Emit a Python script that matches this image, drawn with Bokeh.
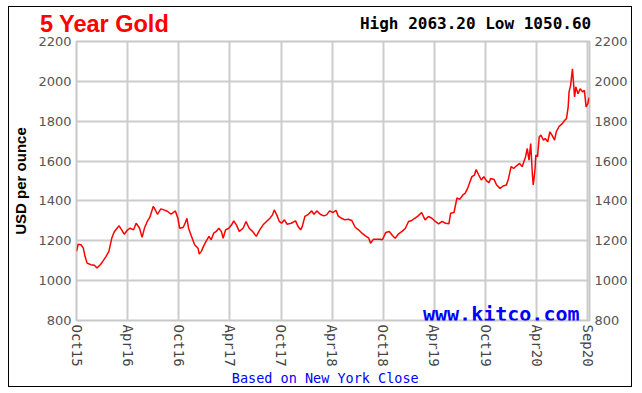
from bokeh.plotting import figure
from bokeh.models import FixedTicker, LinearAxis, Range1d, Label
from bokeh.embed import file_html
from bokeh.resources import INLINE

# months since start (Oct 2015 = 0) and gold price (USD/oz)
months = [
    0.0, 0.2, 0.53, 0.8, 1.0, 1.24, 1.7, 2.1, 2.4, 2.8, 3.08, 3.47, 3.8, 4.14, 4.4, 4.76,
    5.0, 5.3, 5.6, 6.0, 6.3, 6.7, 7.0, 7.4, 7.7, 8.0, 8.3, 8.6, 9.0, 9.15, 9.5, 9.9,
    10.26, 10.7, 11.1, 11.6, 11.9, 12.1, 12.5, 12.7, 12.96, 13.15, 13.5, 13.86, 14.26,
    14.4, 14.65, 14.9, 15.2, 15.55, 15.8, 16.1, 16.4, 16.7, 17.0, 17.2, 17.5, 17.86,
    18.2, 18.45, 18.76, 19.1, 19.55, 19.9, 20.26, 20.6, 21.1, 21.5, 21.9, 22.3, 22.7,
    23.0, 23.2, 23.5, 23.8, 24.06, 24.4, 24.7, 25.2, 25.7, 26.0, 26.3, 26.5, 26.8,
    27.2, 27.6, 27.86, 28.2, 28.6, 29.0,
    29.35, 29.7, 30.1, 30.45, 30.7, 31.1, 31.5, 31.9, 32.3, 32.7, 33.1, 33.5, 33.9,
    34.3, 34.5, 34.85, 35.2, 35.6, 35.9, 36.3, 36.7, 37.1, 37.4, 37.8, 38.2, 38.6,
    38.96, 39.35, 39.7, 40.1, 40.5, 40.9, 41.3, 41.7, 42.1, 42.5, 42.9, 43.3, 43.7,
    43.9, 44.3,
    44.65, 44.96, 45.35, 45.6, 45.9, 46.1, 46.4, 46.7, 46.9, 47.2, 47.5, 47.8, 48.1,
    48.4, 48.6, 49.0, 49.3, 49.7, 50.06, 50.45, 50.7, 51.0, 51.3, 51.6, 52.0, 52.3,
    52.7, 52.9, 53.1, 53.3, 53.5, 53.6, 53.8, 53.9, 54.1, 54.3, 54.5, 54.8, 55.0,
    55.3, 55.55, 55.8, 56.1, 56.3, 56.6, 57.0, 57.3, 57.5, 57.7, 57.8, 57.98, 58.2,
    58.3, 58.45, 58.6, 58.85, 59.1, 59.4, 59.6, 59.8, 60.0, 60.15,
]
prices = [
    1147, 1183, 1180, 1163, 1122, 1088, 1080, 1077, 1063, 1080, 1097, 1122, 1147, 1213, 1243, 1263,
    1275, 1255, 1233, 1255, 1263, 1255, 1288, 1263, 1217, 1267, 1297, 1317, 1372, 1363, 1333, 1360,
    1355, 1347, 1333, 1350, 1313, 1263, 1267, 1283, 1313, 1263, 1222, 1180, 1163,
    1133, 1147, 1172, 1197, 1222, 1205, 1238, 1247, 1263, 1247, 1213, 1255, 1263,
    1280, 1300, 1280, 1247, 1263, 1297, 1263, 1250, 1222, 1255, 1280, 1297, 1313,
    1330, 1355, 1330, 1297, 1288, 1305, 1283, 1288, 1300, 1272, 1255, 1272, 1322,
    1333, 1350, 1333, 1350, 1333, 1325,
    1330, 1350, 1342, 1353, 1325, 1313, 1305, 1308, 1302, 1268, 1255, 1238, 1225,
    1213, 1188, 1208, 1208, 1208, 1205, 1242, 1247, 1225, 1213, 1235, 1247, 1263,
    1297, 1302, 1313, 1325, 1342, 1305, 1322, 1313, 1297, 1285, 1297, 1288, 1285,
    1338, 1342,
    1415, 1408, 1430, 1438, 1463, 1488, 1522, 1530, 1558, 1530, 1505, 1522, 1502,
    1492, 1513, 1508, 1480, 1463, 1475, 1480, 1513, 1572, 1563, 1575, 1588, 1572,
    1622, 1663, 1605, 1688, 1530, 1480, 1555, 1630, 1622, 1722, 1730, 1705, 1713,
    1697, 1747, 1730, 1705, 1747, 1772, 1788, 1805, 1813, 1872, 1947, 1980, 2063,
    2005, 1922, 1972, 1938, 1963, 1947, 1955, 1872, 1888, 1918,
]

x_tick_pos = [0, 6, 12, 18, 24, 30, 36, 42, 48, 54, 60]
x_tick_labels = ["Oct15", "Apr16", "Oct16", "Apr17", "Oct17", "Apr18",
                 "Oct18", "Apr19", "Oct19", "Apr20", "Sep20"]
y_ticks = [800, 1000, 1200, 1400, 1600, 1800, 2000, 2200]

title_text = "5 Year Gold"
hilo_text = "High 2063.20 Low 1050.60"
y_label = "USD per ounce"
footer_text = "Based on New York Close"
brand_text = "www.kitco.com"

# horizontal anchor positions (in x-axis units) of the header / footer texts
TITLE_AT = 3.29
HILO_AT = 46.83
FOOTER_AT = 29.19

p = figure(width=622, height=379, output_backend="svg", toolbar_location=None,
           title=None, x_range=Range1d(0, 60.2), y_range=Range1d(800, 2200),
           min_border_left=66, min_border_right=44, min_border_top=34,
           min_border_bottom=65)
p.styles = {"border": "1px solid black", "box-sizing": "content-box",
            "margin-left": "8px", "margin-top": "6px"}
p.background_fill_color = "white"
p.border_fill_color = "white"
p.outline_line_color = "#c8c8c8"
p.outline_line_width = 2

p.line(months, prices, line_color="#ff0000", line_width=1.5)

xa = p.xaxis[0]
xa.ticker = FixedTicker(ticks=x_tick_pos)
xa.major_label_overrides = {t: l for t, l in zip(x_tick_pos, x_tick_labels)}
xa.major_label_orientation = "vertical"
xa.major_label_text_font = "DejaVu Sans Mono"
xa.major_label_text_font_size = "14px"
xa.major_label_text_color = "#444444"
xa.major_label_standoff = 4

ya = p.yaxis[0]
ya.ticker = FixedTicker(ticks=y_ticks)
ya.axis_label = y_label
ya.axis_label_text_font = "Liberation Sans"
ya.axis_label_text_font_style = "bold"
ya.axis_label_text_font_size = "15px"
ya.axis_label_text_color = "black"
ya.axis_label_standoff = 6

yr = LinearAxis(ticker=FixedTicker(ticks=y_ticks))
p.add_layout(yr, "right")

# header texts carried by two tick-less axes above the plot
ax_hilo = LinearAxis(ticker=FixedTicker(ticks=[HILO_AT]),
                     major_label_overrides={HILO_AT: hilo_text})
ax_hilo.major_label_text_font = "DejaVu Sans Mono"
ax_hilo.major_label_text_font_style = "bold"
ax_hilo.major_label_text_font_size = "16px"
ax_hilo.major_label_text_color = "black"
ax_hilo.major_label_standoff = 9
p.add_layout(ax_hilo, "above")

ax_title = LinearAxis(ticker=FixedTicker(ticks=[TITLE_AT]),
                      major_label_overrides={TITLE_AT: title_text})
ax_title.major_label_text_font = "Liberation Sans"
ax_title.major_label_text_font_style = "bold"
ax_title.major_label_text_font_size = "23.5px"
ax_title.major_label_text_color = "#ff0000"
ax_title.major_label_standoff = -26
p.add_layout(ax_title, "above")

# footer text carried by a tick-less axis below the date axis
ax_foot = LinearAxis(ticker=FixedTicker(ticks=[FOOTER_AT]),
                     major_label_overrides={FOOTER_AT: footer_text})
ax_foot.major_label_text_font = "DejaVu Sans Mono"
ax_foot.major_label_text_font_size = "13.5px"
ax_foot.major_label_text_color = "#0000ff"
ax_foot.major_label_standoff = 0
p.add_layout(ax_foot, "below")

for ax in [xa, ya, yr, ax_hilo, ax_title, ax_foot]:
    ax.axis_line_color = None
    ax.major_tick_line_color = None
    ax.minor_tick_line_color = None
    ax.major_tick_out = 0
    ax.major_tick_in = 0
    ax.minor_tick_out = 0
for ax in [ya, yr]:
    ax.major_label_text_font = "DejaVu Sans"
    ax.major_label_text_font_size = "13px"
    ax.major_label_text_color = "#555555"
    ax.major_label_standoff = 5

p.xgrid.ticker = FixedTicker(ticks=x_tick_pos)
p.ygrid.ticker = FixedTicker(ticks=y_ticks)
for g in [p.xgrid[0], p.ygrid[0]]:
    g.grid_line_color = "#cccccc"
    g.grid_line_width = 2

p.add_layout(Label(x=503, y=7, x_units="screen", y_units="screen", text=brand_text,
                   text_color="#0000ff", text_font="DejaVu Sans Mono", text_font_style="bold",
                   text_font_size="20px", text_align="right", text_baseline="alphabetic"))

open("out.html", "w").write(file_html(p, INLINE))
